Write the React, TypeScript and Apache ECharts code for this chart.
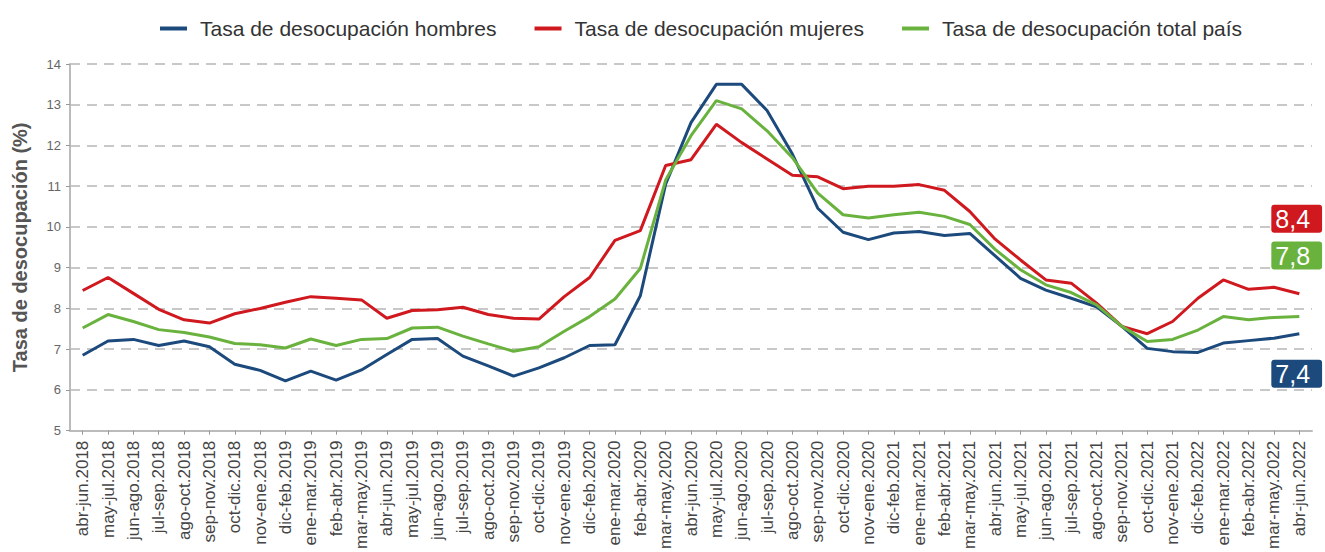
import React, { useEffect, useRef } from "react";
import * as echarts from "echarts";

const categories = [
  "abr-jun.2018", "may-jul.2018", "jun-ago.2018", "jul-sep.2018", "ago-oct.2018", "sep-nov.2018",
  "oct-dic.2018", "nov-ene.2018", "dic-feb.2019", "ene-mar.2019", "feb-abr.2019", "mar-may.2019",
  "abr-jun.2019", "may-jul.2019", "jun-ago.2019", "jul-sep.2019", "ago-oct.2019", "sep-nov.2019",
  "oct-dic.2019", "nov-ene.2019", "dic-feb.2020", "ene-mar.2020", "feb-abr.2020", "mar-may.2020",
  "abr-jun.2020", "may-jul.2020", "jun-ago.2020", "jul-sep.2020", "ago-oct.2020", "sep-nov.2020",
  "oct-dic.2020", "nov-ene.2020", "dic-feb.2021", "ene-mar.2021", "feb-abr.2021", "mar-may.2021",
  "abr-jun.2021", "may-jul.2021", "jun-ago.2021", "jul-sep.2021", "ago-oct.2021", "sep-nov.2021",
  "oct-dic.2021", "nov-ene.2021", "dic-feb.2022", "ene-mar.2022", "feb-abr.2022", "mar-may.2022",
  "abr-jun.2022",
];

const hombres = [
  6.85, 7.2, 7.24, 7.09, 7.2, 7.06, 6.63, 6.48, 6.22, 6.46, 6.24, 6.49,
  6.87, 7.24, 7.26, 6.83, 6.59, 6.34, 6.54, 6.79, 7.09, 7.11, 8.31, 11.05,
  12.56, 13.5, 13.5, 12.86, 11.79, 10.46, 9.87, 9.69, 9.85, 9.89, 9.79, 9.84,
  9.29, 8.74, 8.45, 8.25, 8.04, 7.56, 7.02, 6.94, 6.92, 7.15, 7.21, 7.27,
  7.38,
];

const mujeres = [
  8.44, 8.76, 8.37, 7.98, 7.72, 7.64, 7.87, 8.0, 8.15, 8.29, 8.25, 8.21,
  7.76, 7.95, 7.97, 8.03, 7.85, 7.76, 7.74, 8.29, 8.76, 9.67, 9.91, 11.51,
  11.65, 12.52, 12.07, 11.67, 11.27, 11.23, 10.94, 11.0, 11.0, 11.04, 10.9, 10.38,
  9.7, 9.19, 8.7, 8.62, 8.13, 7.56, 7.38, 7.68, 8.25, 8.7, 8.47, 8.52,
  8.36,
];

const total = [
  7.52, 7.85, 7.68, 7.48, 7.41, 7.3, 7.14, 7.11, 7.03, 7.25, 7.09, 7.24,
  7.26, 7.52, 7.54, 7.32, 7.13, 6.95, 7.06, 7.44, 7.8, 8.23, 8.98, 11.15,
  12.24, 13.1, 12.9, 12.36, 11.7, 10.83, 10.3, 10.22, 10.3, 10.36, 10.26, 10.06,
  9.45, 8.95, 8.58, 8.39, 8.09, 7.56, 7.19, 7.24, 7.47, 7.8, 7.72, 7.78,
  7.8,
];

const seriesNames = [
  "Tasa de desocupación hombres",
  "Tasa de desocupación mujeres",
  "Tasa de desocupación total país",
];
const yTicks = { min: 5, max: 14, interval: 1 };

const FONT = "'Liberation Sans', Arial, sans-serif";

export default function App() {
  const ref = useRef<HTMLDivElement>(null);
  useEffect(() => {
    document.body.style.margin = "0";
    if (!ref.current) return;
    const chart = echarts.init(ref.current, undefined, { renderer: "svg" });
    const endLabel = (color: string, offset: number[]) => ({
      show: true,
      formatter: (p: any) => Number(p.value).toFixed(1).replace(".", ","),
      color: "#fff",
      backgroundColor: color,
      fontFamily: FONT,
      fontSize: 25,
      lineHeight: 25,
      padding: [2, 12, 1, 4],
      borderRadius: 3,
      offset,
    });
    const lineSeries = (name: string, data: number[], color: string, offset: number[]) => ({
      name,
      type: "line",
      data,
      symbol: "none",
      lineStyle: { color, width: 3 },
      itemStyle: { color },
      endLabel: endLabel(color, offset),
    });
    chart.setOption({
      animation: false,
      textStyle: { fontFamily: FONT },
      legend: {
        top: 13,
        left: 155,
        icon: "rect",
        itemWidth: 27,
        itemHeight: 4,
        itemGap: 38,
        textStyle: { fontSize: 21, color: "#333", fontFamily: FONT, padding: [0, 0, 0, 8] },
        data: seriesNames,
      },
      grid: { left: 70, right: 13, top: 64, bottom: 121, containLabel: false },
      xAxis: {
        type: "category",
        data: categories,
        boundaryGap: true,
        axisLine: { lineStyle: { color: "#bbb", width: 2 } },
        axisTick: { show: true, alignWithLabel: true, length: 4, lineStyle: { color: "#999" } },
        axisLabel: {
          interval: 0,
          rotate: 90,
          fontSize: 17,
          color: "#444",
          margin: 10,
          fontFamily: FONT,
        },
      },
      yAxis: {
        type: "value",
        min: yTicks.min,
        max: yTicks.max,
        interval: yTicks.interval,
        name: "Tasa de desocupación (%)",
        nameLocation: "middle",
        nameGap: 40,
        nameTextStyle: { fontSize: 20, fontWeight: "bold", color: "#555", fontFamily: FONT },
        axisLine: { show: true, lineStyle: { color: "#bbb", width: 2 } },
        axisTick: { show: true, length: 4, lineStyle: { color: "#999" } },
        axisLabel: { fontSize: 13, color: "#666", margin: 9, fontFamily: FONT },
        splitLine: { lineStyle: { color: "#c8c8c8", width: 2, type: [10, 7] } },
      },
      series: [
        lineSeries(seriesNames[0], hombres, "#1c4a7c", [-36, 40]),
        lineSeries(seriesNames[1], mujeres, "#d0181f", [-36, -75]),
        lineSeries(seriesNames[2], total, "#6ab23e", [-36, -61]),
      ],
    });
    return () => chart.dispose();
  }, []);
  return <div ref={ref} style={{ width: 1325, height: 552 }} />;
}
